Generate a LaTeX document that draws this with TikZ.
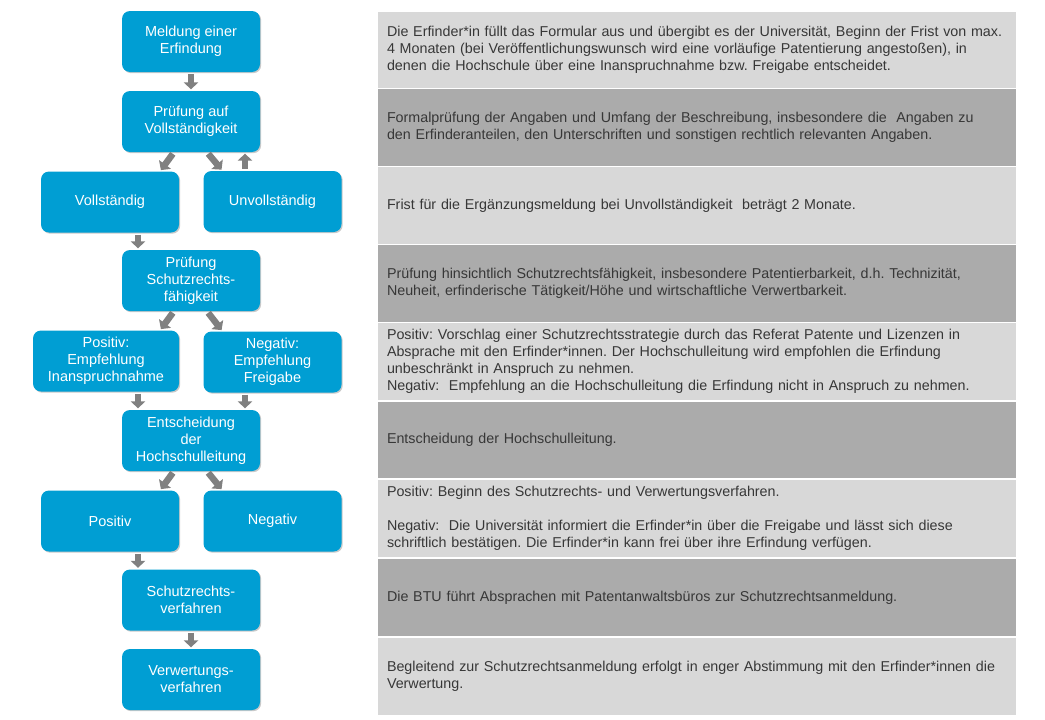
\documentclass[tikz,border=0pt]{standalone}
\usepackage{fontspec}
\setmainfont{Liberation Sans}
\usetikzlibrary{arrows.meta,shadows}
\definecolor{btublue}{RGB}{0,158,211}
\definecolor{rowlight}{RGB}{216,216,216}
\definecolor{rowdark}{RGB}{171,171,171}
\definecolor{arrowgray}{RGB}{128,128,128}
\definecolor{textgray}{RGB}{55,55,55}
\frenchspacing
\begin{document}
\begin{tikzpicture}
[x=1pt, y=-1pt,
  boxdecorate/.style={shape=rectangle, rounded corners=8pt, fill=btublue,
    text=white, minimum height=61pt, inner sep=2pt, align=center,
    font=\fontsize{14.5}{17}\selectfont,
    drop shadow={shadow xshift=1.2pt, shadow yshift=-1.2pt, opacity=0.3, fill=black!70}},%
  rowdecorate/.style={shape=rectangle, minimum width=638pt, minimum height=76.5pt,
    text width=620pt, inner xsep=9pt, align=left, text=textgray,
    font=\fontsize{14.3}{17}\selectfont},%
  arrowdecorate/.style={line width=6.5pt, draw=arrowgray,
    -{Triangle[width=14.5pt,length=7pt]}, shorten <=2pt, shorten >=1.5pt}]
\useasboundingbox (0,0) rectangle (1045,720);
%% table rows
\foreach \rowname/\y/\shade/\content in {
  r1/50/rowlight/{Die Erfinder*in füllt das Formular aus und übergibt es der Universität, Beginn der Frist von max.\\4 Monaten (bei Veröffentlichungswunsch wird eine vorläufige Patentierung angestoßen), in\\denen die Hochschule über eine Inanspruchnahme bzw. Freigabe entscheidet.},
  r2/127.5/rowdark/{Formalprüfung der Angaben und Umfang der Beschreibung, insbesondere die \ Angaben zu\\den Erfinderanteilen, den Unterschriften und sonstigen rechtlich relevanten Angaben.},
  r3/205.5/rowlight/{Frist für die Ergänzungsmeldung bei Unvollständigkeit \ beträgt 2 Monate.},
  r4/283.5/rowdark/{Prüfung hinsichtlich Schutzrechtsfähigkeit, insbesondere Patentierbarkeit, d.h. Technizität,\\Neuheit, erfinderische Tätigkeit/Höhe und wirtschaftliche Verwertbarkeit.},
  r5/361.5/rowlight/{Positiv: Vorschlag einer Schutzrechtsstrategie durch das Referat Patente und Lizenzen in\\Absprache mit den Erfinder*innen. Der Hochschulleitung wird empfohlen die Erfindung\\unbeschränkt in Anspruch zu nehmen.\\Negativ: \ Empfehlung an die Hochschulleitung die Erfindung nicht in Anspruch zu nehmen.},
  r6/440/rowdark/{Entscheidung der Hochschulleitung.},
  r7/518.5/rowlight/{Positiv: Beginn des Schutzrechts- und Verwertungsverfahren.\\[17pt]Negativ: \ Die Universität informiert die Erfinder*in über die Freigabe und lässt sich diese\\schriftlich bestätigen. Die Erfinder*in kann frei über ihre Erfindung verfügen.},
  r8/597.5/rowdark/{Die BTU führt Absprachen mit Patentanwaltsbüros zur Schutzrechtsanmeldung.},
  r9/676.5/rowlight/{Begleitend zur Schutzrechtsanmeldung erfolgt in enger Abstimmung mit den Erfinder*innen die\\Verwertung.}}
{
  \node (\rowname) at (697,\y) [rowdecorate, fill=\shade] {\content};
}
%% process boxes
\foreach \nodename/\x/\y/\w/\label in {
  meld/191/41.5/138/{Meldung einer\\Erfindung},
  pva/191/121.5/138/{Prüfung auf\\Vollständigkeit},
  voll/110/202/138/{Vollständig},
  unvoll/272.5/201.5/138/{Unvollständig},
  psf/191/280.5/138/{Prüfung\\Schutzrechts-\\fähigkeit},
  posE/106/361/146/{Positiv:\\Empfehlung\\Inanspruchnahme},
  negE/272.5/362/138/{Negativ:\\Empfehlung\\Freigabe},
  ent/191/440.5/138/{Entscheidung\\der\\Hochschulleitung},
  pos/110/521/138/{Positiv},
  neg/272.5/521/138/{Negativ},
  srv/191/600/138/{Schutzrechts-\\verfahren},
  vwv/191/679.5/138/{Verwertungs-\\verfahren}}
{
  \node (\nodename) at (\x,\y) [boxdecorate, minimum width=\w pt] {\label};
}
%% arrows between boxes
\foreach \from/\fx/\to/\tx in {meld.south/0/pva.north/0,
  pva.south/-17/voll.north/50, pva.south/16/unvoll.north/-50,
  unvoll.north/-27.5/pva.south/54, voll.south/28/psf.north/-53,
  psf.south/-17/posE.north/54, psf.south/16/negE.north/-50,
  posE.south/32/ent.north/-53, negE.south/-27.5/ent.north/54,
  ent.south/-17/pos.north/50, ent.south/16/neg.north/-50,
  pos.south/28/srv.north/-53, srv.south/0/vwv.north/0}
{
  \draw[arrowdecorate] ([xshift=\fx pt]\from) -- ([xshift=\tx pt]\to);
}
\end{tikzpicture}
\end{document}
